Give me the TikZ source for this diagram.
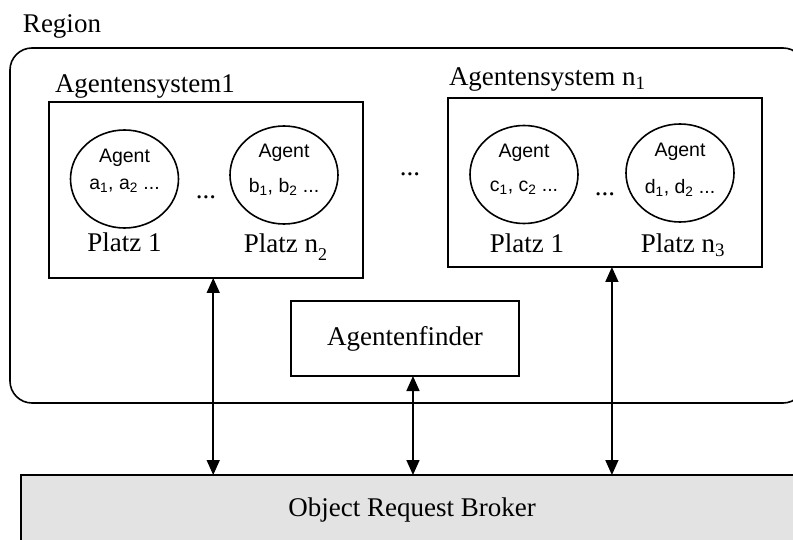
\documentclass[tikz,border=0pt]{standalone}
\usepackage{fontspec}
\setmainfont{Liberation Serif}
\setsansfont{Liberation Sans}
\usetikzlibrary{arrows.meta,calc,shapes.geometric}
\newcommand{\bigfont}{\fontsize{27}{32}\selectfont}
\newcommand{\agfont}{\sffamily\fontsize{19.5}{24}\selectfont}
\newcommand{\lowsub}[1]{\raisebox{-0.28em}{\fontsize{18}{18}\selectfont #1}}
\begin{document}
\begin{tikzpicture}[x=1pt,y=-1pt,
  lw/.style={line width=1.6pt},
  boxnode/.style={lw,draw,rectangle,inner sep=0pt,outer sep=0pt},
  agentnode/.style={lw,draw,ellipse,inner sep=0pt,outer sep=0pt,minimum width=108pt,minimum height=98pt},
  txt/.style={inner sep=0pt,outer sep=0pt,font=\bigfont},
  agtxt/.style={inner sep=0pt,outer sep=0pt,font=\agfont},
  dbl/.style={lw,{Triangle[length=15pt,width=13pt]}-{Triangle[length=15pt,width=13pt]}}]
\useasboundingbox (0,0) rectangle (793,540);
\clip (0,0) rectangle (793,540);
% region
\node[boxnode,rounded corners=22pt,minimum width=795pt,minimum height=355pt] (region) at (407.5,225.5) {};
\node[txt,anchor=base west] (regionlbl) at (23,33) {Region};
% agent systems
\node[boxnode,minimum width=314pt,minimum height=176pt] (sys1) at (206,190) {};
\node[txt,anchor=base west] (sys1lbl) at (55,93) {Agentensystem1};
\node[boxnode,minimum width=314pt,minimum height=169pt] (sys2) at (605,182.5) {};
\node[txt,anchor=base west] (sys2lbl) at (449,86) {Agentensystem n\textsubscript{1}};
% places
\node[agentnode] (pa) at (124.5,179) {};
\node[agentnode] (pb) at (284,175) {};
\node[agentnode] (pc) at (524,174.5) {};
\node[agentnode] (pd) at (680,173) {};
\node[agtxt] (pat) at (124.5,158) {Agent};
\node[agtxt] (pan) at (124.5,186) {a\textsubscript{1}, a\textsubscript{2} ...};
\node[agtxt] (pbt) at (284,153) {Agent};
\node[agtxt] (pbn) at (284,187) {b\textsubscript{1}, b\textsubscript{2} ...};
\node[agtxt] (pct) at (524,153) {Agent};
\node[agtxt] (pcn) at (524,188) {c\textsubscript{1}, c\textsubscript{2} ...};
\node[agtxt] (pdt) at (680,152) {Agent};
\node[agtxt] (pdn) at (680,188) {d\textsubscript{1}, d\textsubscript{2} ...};
\node[txt,anchor=base] (la) at (124.5,252) {Platz 1};
\node[txt,anchor=base] (lb) at (285.5,253) {Platz n\lowsub{2}};
\node[txt,anchor=base] (lc) at (527,253) {Platz 1};
\node[txt,anchor=base] (ld) at (683,253) {Platz n\textsubscript{3}};
\node[txt,anchor=base] (dots1) at (206,199) {...};
\node[txt,anchor=base] (dots2) at (605,196) {...};
\node[txt,anchor=base] (dots3) at (410,176) {...};
% finder and ORB
\node[boxnode,minimum width=228pt,minimum height=75pt,font=\bigfont] (af) at (405,338.5) {Agentenfinder};
\node[boxnode,fill=black!11,minimum width=779pt,minimum height=90pt] (orb) at (410.5,520) {};
\node[txt] (orbt) at (412,510) {Object Request Broker};
% connectors
\coordinate (t1) at ($(sys1.south west)!0.523!(sys1.south east)$);
\coordinate (t2) at ($(af.south west)!0.535!(af.south east)$);
\coordinate (t3) at ($(sys2.south west)!0.522!(sys2.south east)$);
\draw[dbl] (t1) -- (t1 |- orb.north);
\draw[dbl] (t2) -- (t2 |- orb.north);
\draw[dbl] (t3) -- (t3 |- orb.north);
\end{tikzpicture}
\end{document}
